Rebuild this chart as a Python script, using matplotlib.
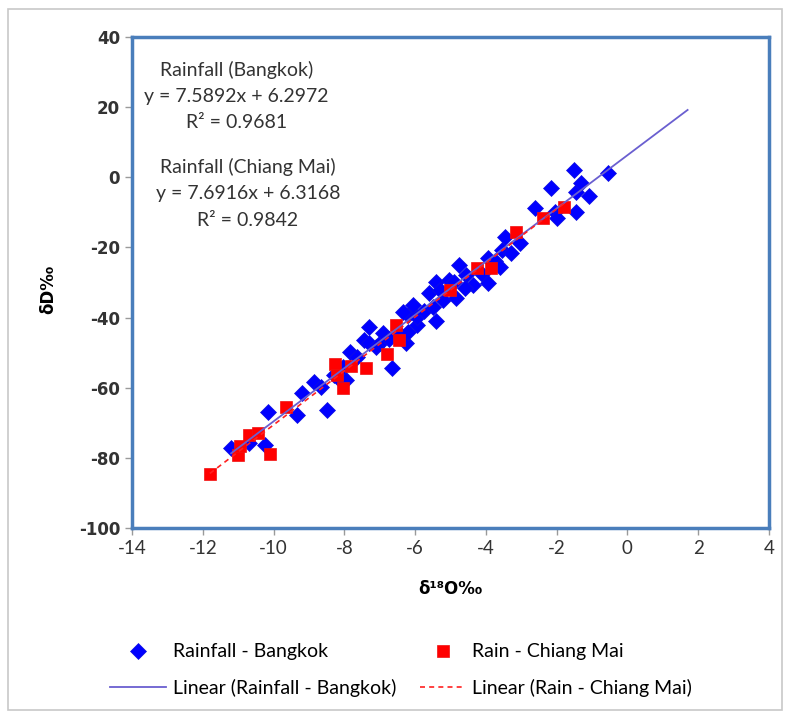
import numpy as np
import matplotlib.pyplot as plt
from matplotlib.patches import Rectangle

# ------------------------------------------------------------
# Data (delta-18O vs delta-D, per mil)
# ------------------------------------------------------------
bkk_d18o = [-11.2, -10.7, -10.25, -10.15, -9.35, -9.2, -8.85, -8.65, -8.5, -8.3,
            -8.15, -7.95, -7.85, -7.65, -7.45, -7.3, -7.3, -7.0, -6.9, -6.65,
            -6.75, -6.45, -6.25, -6.2, -6.2, -6.05, -5.95, -5.95, -5.75, -5.6,
            -5.5, -5.4, -5.4, -5.2, -5.05, -4.85, -4.9, -4.75, -4.55, -4.35,
            -4.1, -3.95, -3.95, -3.75, -3.6, -3.55, -3.45, -3.3, -3.05, -2.6,
            -2.15, -2.05, -2.0, -1.5, -1.45, -1.45, -1.3, -1.1, -0.55, -6.35,
            -5.3, -4.6, -8.05, -7.1]
bkk_dD = [-77.3, -75.8, -76.3, -67.0, -67.8, -61.6, -58.5, -59.8, -66.3, -56.5,
          -57.5, -57.8, -49.8, -51.2, -46.5, -42.8, -47.2, -47.3, -44.5, -54.3,
          -46.0, -44.5, -47.3, -44.0, -39.3, -36.4, -42.0, -39.7, -38.0, -33.1,
          -36.9, -41.0, -29.8, -35.0, -29.3, -34.3, -29.8, -25.0, -28.0, -30.7,
          -27.5, -30.2, -23.1, -24.0, -25.5, -20.7, -16.9, -21.7, -18.8, -8.9,
          -3.1, -9.8, -11.7, 2.1, -4.1, -9.8, -1.7, -5.3, 1.3, -38.5,
          -32.0, -31.5, -54.0, -48.5]

cm_d18o = [-11.8, -11.0, -10.95, -10.7, -10.45, -10.1, -9.65, -8.25, -8.2, -8.05,
           -7.8, -7.4, -6.8, -6.55, -6.45, -5.0, -4.25, -3.85, -3.15, -2.4, -1.8]
cm_dD = [-84.5, -79.2, -76.5, -73.5, -73.0, -79.0, -65.5, -53.3, -56.5, -60.0,
         -53.8, -54.5, -50.3, -42.0, -46.5, -32.0, -26.0, -26.0, -15.7, -11.7, -8.6]

# Trendline coefficients shown on the chart
bkk_slope, bkk_icpt, bkk_r2 = 7.5892, 6.2972, 0.9681
cm_slope, cm_icpt, cm_r2 = 7.6916, 6.3168, 0.9842
bkk_forward = 2.25  # excel-style forward forecast of the Bangkok trendline

# ------------------------------------------------------------
# Plot
# ------------------------------------------------------------
plt.rcParams['font.family'] = ['Lato', 'DejaVu Sans']
plt.rcParams['axes.unicode_minus'] = False

fig = plt.figure(figsize=(7.9, 7.17), dpi=100)
fig.patches.append(Rectangle((0.010, 0.010), 0.980, 0.978, transform=fig.transFigure,
                             fill=False, edgecolor='#c8c8c8', linewidth=1.2))
ax = fig.add_axes([0.1671, 0.2636, 0.8063, 0.6848])

bk_pts, = ax.plot(bkk_d18o, bkk_dD, linestyle='none', marker='D', markersize=7.8,
                  color='#0000ff', markeredgecolor='#1010e0', markeredgewidth=0.5,
                  zorder=3)
cm_pts, = ax.plot(cm_d18o, cm_dD, linestyle='none', marker='s', markersize=9,
                  color='#ff0000', markeredgecolor='#f01010', markeredgewidth=0.5,
                  zorder=3)

xb = np.array([min(bkk_d18o), max(bkk_d18o) + bkk_forward])
bk_fit, = ax.plot(xb, bkk_slope * xb + bkk_icpt, color='#6a5fd0', linewidth=1.3,
                  zorder=4)
xc = np.array([min(cm_d18o), max(cm_d18o)])
cm_fit, = ax.plot(xc, cm_slope * xc + cm_icpt, color='#ff2020', linewidth=1.2,
                  linestyle=(0, (3, 2.5)), zorder=5)

ax.set_xlim(-14, 4)
ax.set_ylim(-100, 40)
ax.set_xticks(np.arange(-14, 5, 2))
ax.set_yticks(np.arange(-100, 41, 20))
for sp in ax.spines.values():
    sp.set_color('#4a7ebb')
    sp.set_linewidth(2.5)
ax.tick_params(direction='out', length=5, width=1, color='#9a9a9a',
               labelcolor='#333333')
ax.tick_params(axis='x', labelsize=13.5)
ax.tick_params(axis='y', labelsize=12)
for lab in ax.get_yticklabels():
    lab.set_fontfamily('DejaVu Sans')
    lab.set_fontweight('bold')

ax.set_xlabel('δ¹⁸O‰', fontsize=12, fontweight='bold', family=['DejaVu Sans'])
ax.set_ylabel('δD‰', fontsize=12, fontweight='bold', family=['DejaVu Sans'])
ax.xaxis.set_label_coords(0.5, -0.106)
ax.yaxis.set_label_coords(-0.118, 0.485)

# equation boxes
txt_kw = dict(transform=ax.transAxes, ha='center', va='center', fontsize=14,
              color='#333333')
ax.text(0.1635, 0.933, 'Rainfall (Bangkok)', **txt_kw)
ax.text(0.1635, 0.878, f'y = {bkk_slope}x + {bkk_icpt}', **txt_kw)
ax.text(0.1635, 0.825, f'R² = {bkk_r2}', **txt_kw)
ax.text(0.182, 0.735, 'Rainfall (Chiang Mai)', **txt_kw)
ax.text(0.182, 0.682, f'y = {cm_slope}x + {cm_icpt}', **txt_kw)
ax.text(0.182, 0.627, f'R² = {cm_r2}', **txt_kw)

# legend laid out like Excel: two aligned columns, one entry placed at a time
W, H = 790.0, 717.0
entries = [
    (bk_pts, 'Rainfall - Bangkok', 110, 652, 2.88),
    (cm_pts, 'Rain - Chiang Mai', 420, 652, 2.32),
    (bk_fit, 'Linear (Rainfall - Bangkok)', 110, 688, 2.88),
    (cm_fit, 'Linear (Rain - Chiang Mai)', 420, 688, 2.32),
]
for handle, label, px, py, hl in entries:
    fig.legend([handle], [label], loc='center left',
               bbox_to_anchor=(px / W, 1 - py / H), frameon=False,
               fontsize=14, handlelength=hl, handletextpad=0.36,
               borderpad=0, borderaxespad=0)

fig.savefig('out.png', dpi=100)
